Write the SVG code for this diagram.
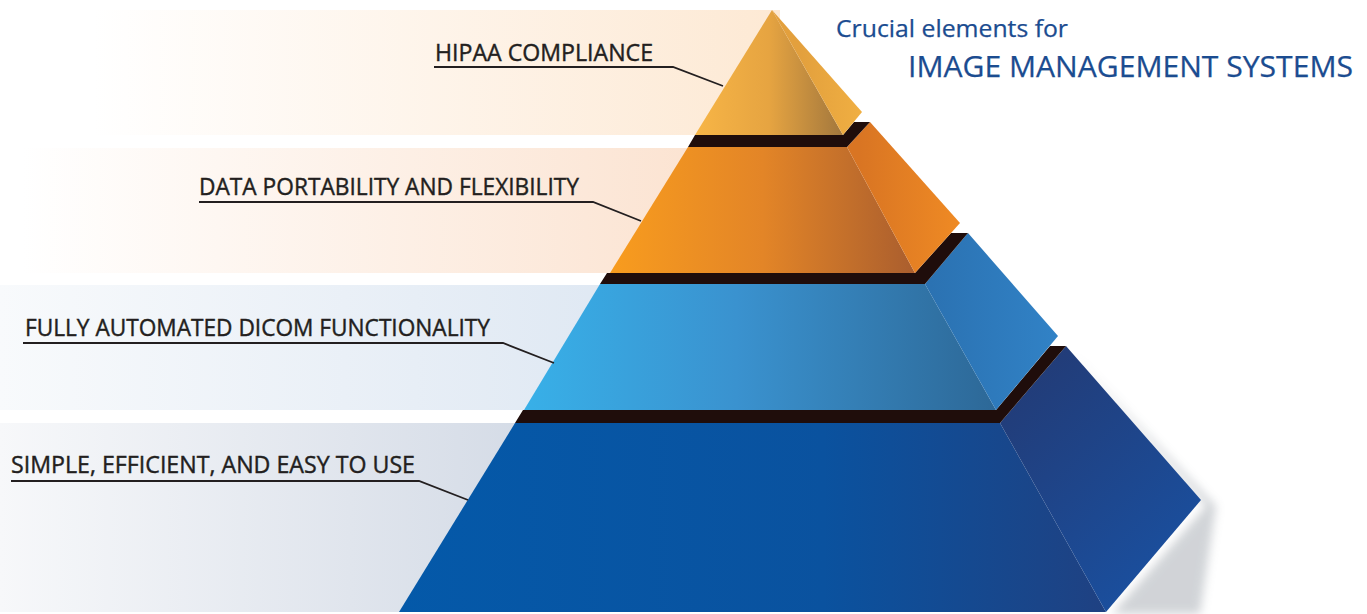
<svg xmlns="http://www.w3.org/2000/svg" width="1367" height="614" viewBox="0 0 1367 614">
<style>
.lbl{font-family:"Open Sans","Liberation Sans",sans-serif;font-size:23px;font-weight:400;fill:#231f20;stroke:#231f20;stroke-width:0.4}
.ttl{font-family:"Open Sans","Liberation Sans",sans-serif;font-weight:400;fill:#1b4c90;stroke:#1b4c90;stroke-width:0.25}
.lead{fill:none;stroke:#231f20;stroke-width:1.8}
.ledge{fill:#1f0d0b}
</style>
<defs>
<linearGradient id="b1" x1="0" y1="0" x2="780" y2="0" gradientUnits="userSpaceOnUse"><stop offset="0.12" stop-color="#ffffff"/><stop offset="1" stop-color="#fde9d4"/></linearGradient>
<linearGradient id="b2" x1="0" y1="0" x2="780" y2="0" gradientUnits="userSpaceOnUse"><stop offset="0.03" stop-color="#ffffff"/><stop offset="1" stop-color="#fbe0cc"/></linearGradient>
<linearGradient id="b3" x1="0" y1="0" x2="760" y2="0" gradientUnits="userSpaceOnUse"><stop offset="0" stop-color="#f8fafc"/><stop offset="1" stop-color="#d9e4f1"/></linearGradient>
<linearGradient id="b4" x1="0" y1="0" x2="700" y2="0" gradientUnits="userSpaceOnUse"><stop offset="0" stop-color="#f7f8fa"/><stop offset="1" stop-color="#c9d2e0"/></linearGradient>
<linearGradient id="f1" x1="695" y1="0" x2="843" y2="0" gradientUnits="userSpaceOnUse"><stop offset="0" stop-color="#f7b546"/><stop offset="0.5" stop-color="#e6a441"/><stop offset="1" stop-color="#a2773d"/></linearGradient>
<linearGradient id="s1" x1="800" y1="0" x2="862" y2="0" gradientUnits="userSpaceOnUse"><stop offset="0" stop-color="#e3a03d"/><stop offset="1" stop-color="#f0af42"/></linearGradient>
<linearGradient id="f2" x1="610" y1="0" x2="915" y2="0" gradientUnits="userSpaceOnUse"><stop offset="0" stop-color="#f89c1e"/><stop offset="0.5" stop-color="#e38527"/><stop offset="1" stop-color="#aa5e2e"/></linearGradient>
<linearGradient id="s2" x1="860" y1="0" x2="960" y2="0" gradientUnits="userSpaceOnUse"><stop offset="0" stop-color="#d97523"/><stop offset="1" stop-color="#ef8a24"/></linearGradient>
<linearGradient id="f3" x1="524" y1="0" x2="996" y2="0" gradientUnits="userSpaceOnUse"><stop offset="0" stop-color="#38b0e8"/><stop offset="0.45" stop-color="#3a92cf"/><stop offset="1" stop-color="#2d6897"/></linearGradient>
<linearGradient id="s3" x1="930" y1="0" x2="1058" y2="0" gradientUnits="userSpaceOnUse"><stop offset="0" stop-color="#2b72b2"/><stop offset="1" stop-color="#3182c6"/></linearGradient>
<linearGradient id="f4" x1="399" y1="0" x2="1106" y2="0" gradientUnits="userSpaceOnUse"><stop offset="0" stop-color="#0459a9"/><stop offset="0.6" stop-color="#0a529f"/><stop offset="1" stop-color="#1f4182"/></linearGradient>
<linearGradient id="s4" x1="1020" y1="380" x2="1180" y2="560" gradientUnits="userSpaceOnUse"><stop offset="0" stop-color="#223c78"/><stop offset="1" stop-color="#1a4f9e"/></linearGradient>
<filter id="sh" x="-20%" y="-20%" width="140%" height="140%"><feGaussianBlur stdDeviation="5"/></filter>
</defs>

<g id="bands">
<rect x="0" y="10" width="780" height="125" fill="url(#b1)"/>
<rect x="0" y="148" width="780" height="125" fill="url(#b2)"/>
<rect x="0" y="285" width="760" height="125" fill="url(#b3)"/>
<rect x="0" y="423" width="700" height="189" fill="url(#b4)"/>
</g>

<polygon points="1070,352 1206,506 1112,614 1200,614 1216,506" fill="#9aa0a8" opacity="0.45" filter="url(#sh)"/>

<g id="tier-simple">
<polygon points="515,423 1000,423 1106,612 399,612" fill="url(#f4)"/>
<polygon points="1000,423 1066,346 1201,500 1106,612" fill="url(#s4)"/>
<text class="lbl" x="11" y="473" textLength="404" lengthAdjust="spacingAndGlyphs">SIMPLE, EFFICIENT, AND EASY TO USE</text>
</g>
<polygon class="ledge" points="523,410 996,410 1050,346 1066,346 1000,423 515,423"/>

<g id="tier-dicom">
<polygon points="600,284 925,284 996,410 524,410" fill="url(#f3)"/>
<polygon points="925,284 968,233 1058,336 996,410" fill="url(#s3)"/>
<text class="lbl" x="25" y="336" textLength="465" lengthAdjust="spacingAndGlyphs">FULLY AUTOMATED DICOM FUNCTIONALITY</text>
</g>
<polygon class="ledge" points="607,273 915,273 951,233 968,233 925,284 600,284"/>

<g id="tier-data">
<polygon points="688,147 847,147 915,273 610,273" fill="url(#f2)"/>
<polygon points="847,147 870,122 960,223 915,273" fill="url(#s2)"/>
<text class="lbl" x="199" y="195" textLength="380" lengthAdjust="spacingAndGlyphs">DATA PORTABILITY AND FLEXIBILITY</text>
</g>
<polygon class="ledge" points="695,135 843,135 854,122 870,122 847,147 688,147"/>

<g id="tier-hipaa">
<polygon points="772,10 843,135 695,135" fill="url(#f1)"/>
<polygon points="772,10 862,112 843,135" fill="url(#s1)"/>
<text class="lbl" x="435" y="61" textLength="218" lengthAdjust="spacingAndGlyphs">HIPAA COMPLIANCE</text>
</g>

<g id="connectors">
<polyline class="lead" points="434,67 673,67 723,86"/>
<polyline class="lead" points="199,202 593,202 641,221"/>
<polyline class="lead" points="23,343 503,343 554,363"/>
<polyline class="lead" points="11,481 419,481 468,500"/>
</g>

<g id="title">
<text class="ttl" x="836" y="37" font-size="24" textLength="232" lengthAdjust="spacingAndGlyphs">Crucial elements for</text>
<text class="ttl" x="908" y="77" font-size="30" textLength="445" lengthAdjust="spacingAndGlyphs">IMAGE MANAGEMENT SYSTEMS</text>
</g>
</svg>
